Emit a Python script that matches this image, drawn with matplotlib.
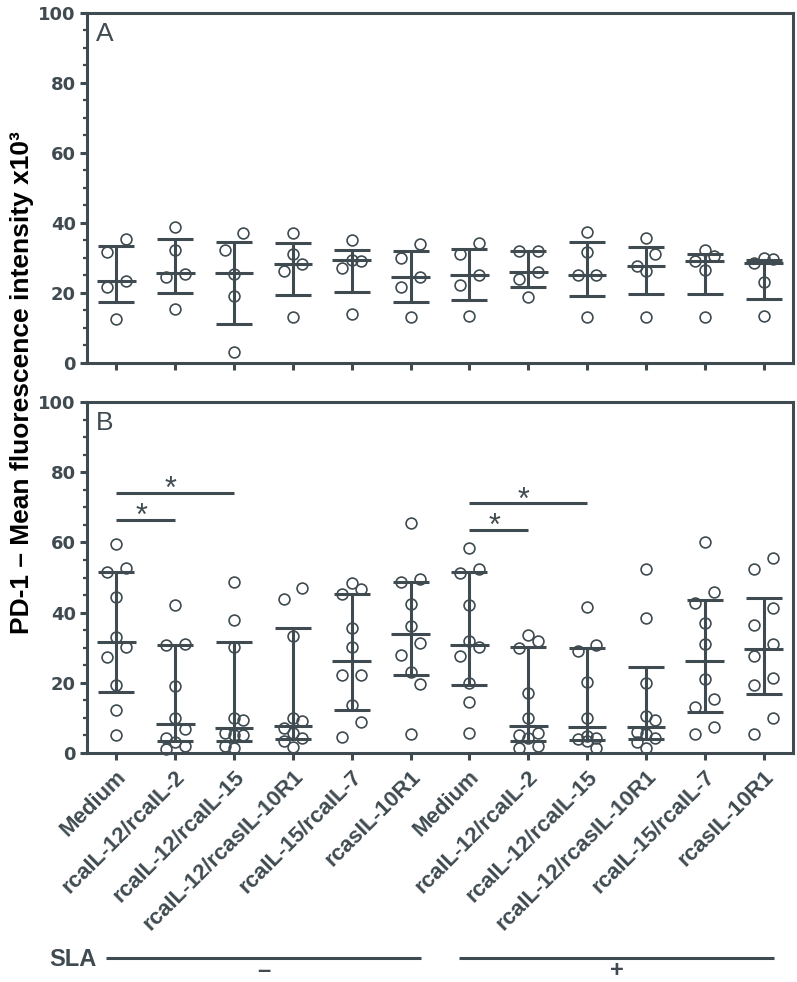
import numpy as np
import matplotlib
matplotlib.use('Agg')
import matplotlib.pyplot as plt
from matplotlib.ticker import MultipleLocator
from matplotlib.transforms import ScaledTranslation, blended_transform_factory

plt.rcParams['font.family'] = ['Liberation Sans', 'DejaVu Sans']

# categories (same six conditions without / with SLA)
labels = ['Medium', 'rcaIL-12/rcaIL-2', 'rcaIL-12/rcaIL-15', 'rcaIL-12/rcasIL-10R1',
          'rcaIL-15/rcaIL-7', 'rcasIL-10R1'] * 2

# Panel A - individual values (MFI x10^3)
a_points = [
    [35.3, 31.6, 23.5, 21.8, 12.5],
    [38.8, 32.3, 25.4, 24.6, 15.4],
    [37.1, 32.3, 25.4, 19.2, 3.0],
    [37.1, 31.1, 28.3, 26.2, 13.0],
    [35.0, 29.4, 29.2, 27.0, 14.0],
    [34.0, 30.0, 24.6, 21.6, 13.2],
    [34.2, 31.1, 25.1, 22.3, 13.5],
    [32.1, 32.1, 25.9, 24.0, 18.9],
    [37.5, 31.6, 25.1, 25.1, 13.0],
    [35.7, 31.1, 27.8, 26.4, 13.0],
    [32.3, 30.7, 29.2, 26.6, 13.0],
    [30.0, 29.8, 28.5, 23.0, 13.3],
]
a_median = [23.5, 25.6, 25.6, 28.3, 29.4, 24.6, 25.1, 25.9, 25.1, 27.6, 29.2, 28.5]
a_q1 = [17.3, 20.0, 11.1, 19.5, 20.4, 17.3, 18.0, 21.6, 19.0, 19.7, 19.7, 18.2]
a_q3 = [33.5, 35.4, 34.7, 34.2, 32.3, 32.1, 32.6, 32.1, 34.5, 33.2, 31.1, 29.4]

# Panel B
b_points = [
    [59.5, 52.6, 51.7, 44.5, 33.0, 30.3, 27.4, 19.4, 12.2, 5.2],
    [42.2, 31.0, 30.8, 19.2, 10.0, 6.8, 4.2, 3.0, 2.0, 1.2],
    [48.8, 37.9, 30.1, 9.9, 9.4, 5.6, 5.2, 5.2, 1.9, 1.4],
    [47.1, 43.8, 33.4, 10.1, 9.0, 7.0, 5.6, 4.2, 3.3, 1.6],
    [48.3, 46.6, 45.3, 35.5, 30.3, 22.2, 22.2, 13.7, 8.8, 4.7],
    [65.4, 49.5, 48.8, 42.4, 36.2, 31.3, 27.9, 23.2, 19.7, 5.5],
    [58.3, 52.3, 51.4, 42.2, 32.0, 30.1, 27.6, 20.0, 14.6, 5.6],
    [33.6, 32.0, 30.0, 17.0, 9.9, 5.8, 5.2, 4.2, 2.0, 1.4],
    [41.7, 30.8, 29.2, 20.2, 9.9, 4.8, 4.4, 4.0, 3.3, 1.4],
    [52.3, 38.6, 20.0, 10.6, 9.3, 6.0, 5.5, 4.3, 3.0, 1.4],
    [60.0, 46.0, 42.8, 37.0, 31.0, 21.2, 15.5, 13.0, 7.3, 5.4],
    [55.5, 52.5, 41.3, 36.5, 31.0, 27.5, 21.3, 19.3, 10.0, 5.5],
]
b_median = [31.7, 8.3, 7.1, 7.8, 26.3, 33.8, 30.8, 7.8, 7.3, 7.5, 26.1, 29.5]
b_q1 = [17.4, 3.5, 3.5, 4.0, 12.2, 22.2, 19.3, 3.5, 3.8, 4.1, 11.8, 16.7]
b_q3 = [51.7, 30.8, 31.6, 35.7, 45.3, 48.8, 51.7, 30.2, 29.8, 24.4, 43.6, 44.3]

# significance bars in panel B
sig_pairs = [(0, 1), (0, 2), (6, 7), (6, 8)]
sig_heights = [66.4, 74.2, 63.5, 71.1]

sla_signs = ['–', '+']
sla_groups = [(0, 5), (6, 11)]

col = '#3f4b51'


def swarm(vals, thresh=5.0, step=0.158):
    # spread points that sit close together sideways (like a column scatter)
    vals = np.asarray(vals)
    order = np.argsort(vals)[::-1]
    offs = np.zeros(len(vals))
    clusters = []
    cur = [order[0]]
    for i in order[1:]:
        if vals[cur[-1]] - vals[i] < thresh:
            cur.append(i)
        else:
            clusters.append(cur)
            cur = [i]
    clusters.append(cur)
    for c in clusters:
        if len(c) == 2:
            offs[c[0]], offs[c[1]] = step, -step
        elif len(c) > 2:
            for k, i in enumerate(c):
                offs[i] = [0, step, -step][k % 3]
    return offs


def draw_panel(ax, points, med, q1, q3, tag):
    x = np.arange(len(points))
    for i, vals in enumerate(points):
        ax.plot(i + swarm(vals), vals, 'o', mfc='none', mec=col, ms=7.8, mew=1.2,
                clip_on=False, zorder=2)
    med = np.array(med)
    ax.errorbar(x, med, yerr=[med - np.array(q1), np.array(q3) - med], fmt='none',
                ecolor=col, elinewidth=2.2, capsize=13, capthick=2.2, zorder=3, clip_on=False)
    ax.hlines(med, x - 0.33, x + 0.33, colors=col, lw=2.2, zorder=3)
    ax.set_xlim(-0.5, 11.5)
    ax.set_ylim(0, 100)
    ax.set_xticks(x)
    ax.set_yticks(range(0, 101, 20))
    ax.yaxis.set_minor_locator(MultipleLocator(5))
    ax.tick_params(axis='both', which='major', direction='out', length=5, width=2.2,
                   color=col, labelcolor=col, pad=3)
    ax.tick_params(axis='y', which='minor', direction='out', length=3, width=1.6, color=col)
    for lab in ax.get_yticklabels():
        lab.set_family('DejaVu Sans')
        lab.set_fontweight('bold')
        lab.set_fontsize(13)
    for s in ax.spines.values():
        s.set_linewidth(2.2)
        s.set_color(col)
    ax.text(0.012, 0.975, tag, transform=ax.transAxes, ha='left', va='top',
            fontsize=19, color=col)


fig = plt.figure(figsize=(7.97, 9.82), dpi=100)
W, H = 797.0, 982.0
axA = fig.add_axes([87 / W, 1 - 363 / H, 706 / W, 350 / H])
axB = fig.add_axes([87 / W, 1 - 753 / H, 706 / W, 351 / H])

draw_panel(axA, a_points, a_median, a_q1, a_q3, 'A')
draw_panel(axB, b_points, b_median, b_q1, b_q3, 'B')

axA.set_xticklabels([])
axB.set_xticklabels(labels, rotation=45, ha='right', va='center',
                    rotation_mode='anchor', fontsize=16, fontweight='bold', color=col)
axB.tick_params(axis='x', pad=10)
shift = ScaledTranslation(0.07, 0, fig.dpi_scale_trans)
for lab in axB.get_xticklabels():
    lab.set_transform(lab.get_transform() + shift)

# significance bars
for (a, b), h in zip(sig_pairs, sig_heights):
    axB.plot([a, b], [h, h], color=col, lw=2.2, solid_capstyle='butt', zorder=3)
    axB.text((a + b) / 2 - 0.08, h - 1.5, '*', ha='center', va='baseline',
             fontsize=22, color=col)

# y label
fig.text(22 / W, 1 - 383 / H, 'PD-1 – Mean fluorescence intensity x10³', rotation=90,
         ha='center', va='center', fontsize=19, fontweight='bold', color='black')

# SLA groups under the axis
trans = blended_transform_factory(axB.transData, fig.transFigure)
y_line = 1 - 958 / H
for sign, (a, b) in zip(sla_signs, sla_groups):
    axB.plot([a - 0.18, b + 0.18], [y_line, y_line], transform=trans, color=col,
             lw=2.2, clip_on=False, solid_capstyle='butt')
    axB.text((a + b) / 2, 0.0, sign, transform=trans, ha='center', va='bottom',
             fontsize=17, fontweight='bold', color=col)
fig.text(97 / W, 1 - 966.5 / H, 'SLA', ha='right', va='baseline', fontsize=17,
         fontweight='bold', color=col)

fig.savefig('out.png', dpi=100)
